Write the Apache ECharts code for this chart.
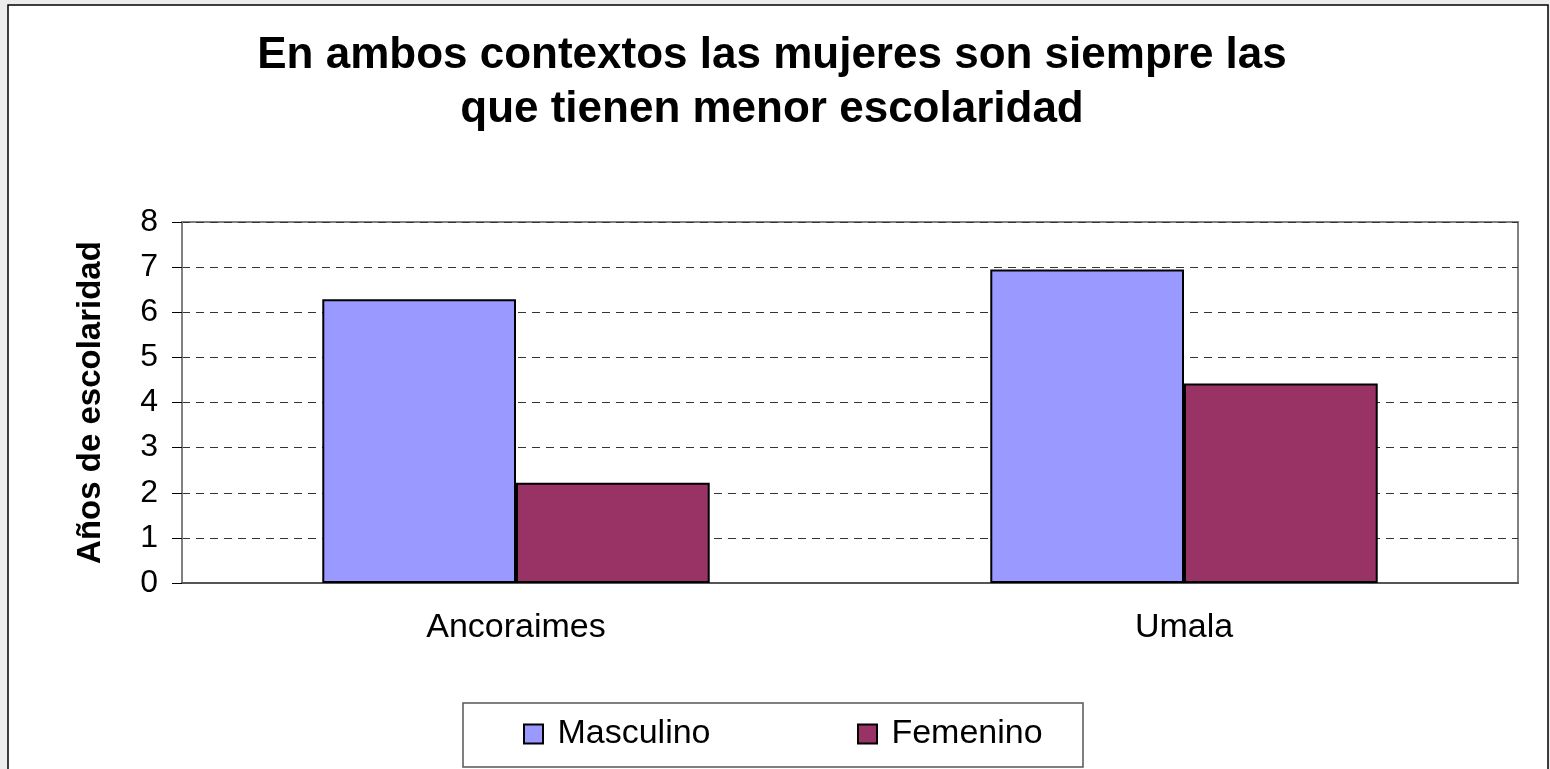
<!DOCTYPE html>
<html>
<head>
<meta charset="utf-8">
<script src="https://cdn.jsdelivr.net/npm/echarts@6/dist/echarts.min.js"></script>
<style>
  html, body { margin: 0; padding: 0; background: #ececec; }
  #chart { width: 1550px; height: 769px; }
</style>
</head>
<body>
<div id="chart"></div>
<script>
// datos del gráfico
var categorias = ["Ancoraimes", "Umala"];
var masculino = [6.29, 6.95];
var femenino = [2.22, 4.42];
var yTicks = { min: 0, max: 8, interval: 1 };

var fuente = "Liberation Sans, Arial, sans-serif";

var chart = echarts.init(document.getElementById("chart"));
chart.setOption({
  backgroundColor: "#ececec",
  animation: false,
  title: {
    text: "En ambos contextos las mujeres son siempre las\nque tienen menor escolaridad",
    left: 772,
    top: 29,
    padding: 0,
    textAlign: "center",
    textStyle: {
      fontFamily: fuente,
      fontSize: 44,
      fontWeight: "bold",
      lineHeight: 54,
      color: "#000",
    },
  },
  // marco blanco y caja de la leyenda
  graphic: [
    {
      type: "rect",
      z: -10,
      shape: { x: 8, y: 5, width: 1540, height: 770 },
      style: { fill: "#fff", stroke: "#000", lineWidth: 1.5 },
    },
    {
      type: "rect",
      shape: { x: 463, y: 703, width: 620, height: 64 },
      style: { fill: "#fff", stroke: "#555", lineWidth: 1.5 },
    },
  ],
  legend: [
    {
      data: ["Masculino"],
      left: 523,
      top: 717,
      padding: 0,
      icon: "rect",
      itemWidth: 19,
      itemHeight: 19,
      formatter: " {name}",
      itemStyle: { borderColor: "#000", borderWidth: 2 },
      textStyle: { fontFamily: fuente, fontSize: 34, color: "#000" },
    },
    {
      data: ["Femenino"],
      left: 857,
      top: 717,
      padding: 0,
      icon: "rect",
      itemWidth: 19,
      itemHeight: 19,
      formatter: " {name}",
      itemStyle: { borderColor: "#000", borderWidth: 2 },
      textStyle: { fontFamily: fuente, fontSize: 34, color: "#000" },
    },
  ],
  grid: {
    left: 182,
    top: 222,
    width: 1336,
    height: 361,
    show: true,
    borderColor: "#808080",
    borderWidth: 2,
    backgroundColor: "#fff",
  },
  xAxis: {
    type: "category",
    data: categorias,
    axisLine: { lineStyle: { color: "#555", width: 2 } },
    axisTick: { length: 10, lineStyle: { color: "#000", width: 1 } },
    axisLabel: {
      margin: 28,
      fontFamily: fuente,
      fontSize: 34,
      color: "#000",
    },
  },
  yAxis: {
    type: "value",
    min: yTicks.min,
    max: yTicks.max,
    interval: yTicks.interval,
    name: "Años de escolaridad",
    nameLocation: "middle",
    nameGap: 75,
    nameTextStyle: {
      fontFamily: fuente,
      fontSize: 33,
      fontWeight: "bold",
      color: "#000",
    },
    axisLine: { show: true, lineStyle: { color: "#808080", width: 2 } },
    axisTick: { show: true, length: 10, lineStyle: { color: "#000", width: 1 } },
    axisLabel: {
      margin: 24,
      fontFamily: fuente,
      fontSize: 32,
      color: "#000",
    },
    splitLine: {
      show: true,
      lineStyle: { color: "#333", width: 1, type: [8, 6] },
    },
  },
  series: [
    {
      name: "Masculino",
      type: "bar",
      data: masculino,
      barGap: "0%",
      barCategoryGap: "42%",
      itemStyle: { color: "#9999FF", borderColor: "#000", borderWidth: 2 },
    },
    {
      name: "Femenino",
      type: "bar",
      data: femenino,
      itemStyle: { color: "#993366", borderColor: "#000", borderWidth: 2 },
    },
  ],
});
</script>
</body>
</html>
